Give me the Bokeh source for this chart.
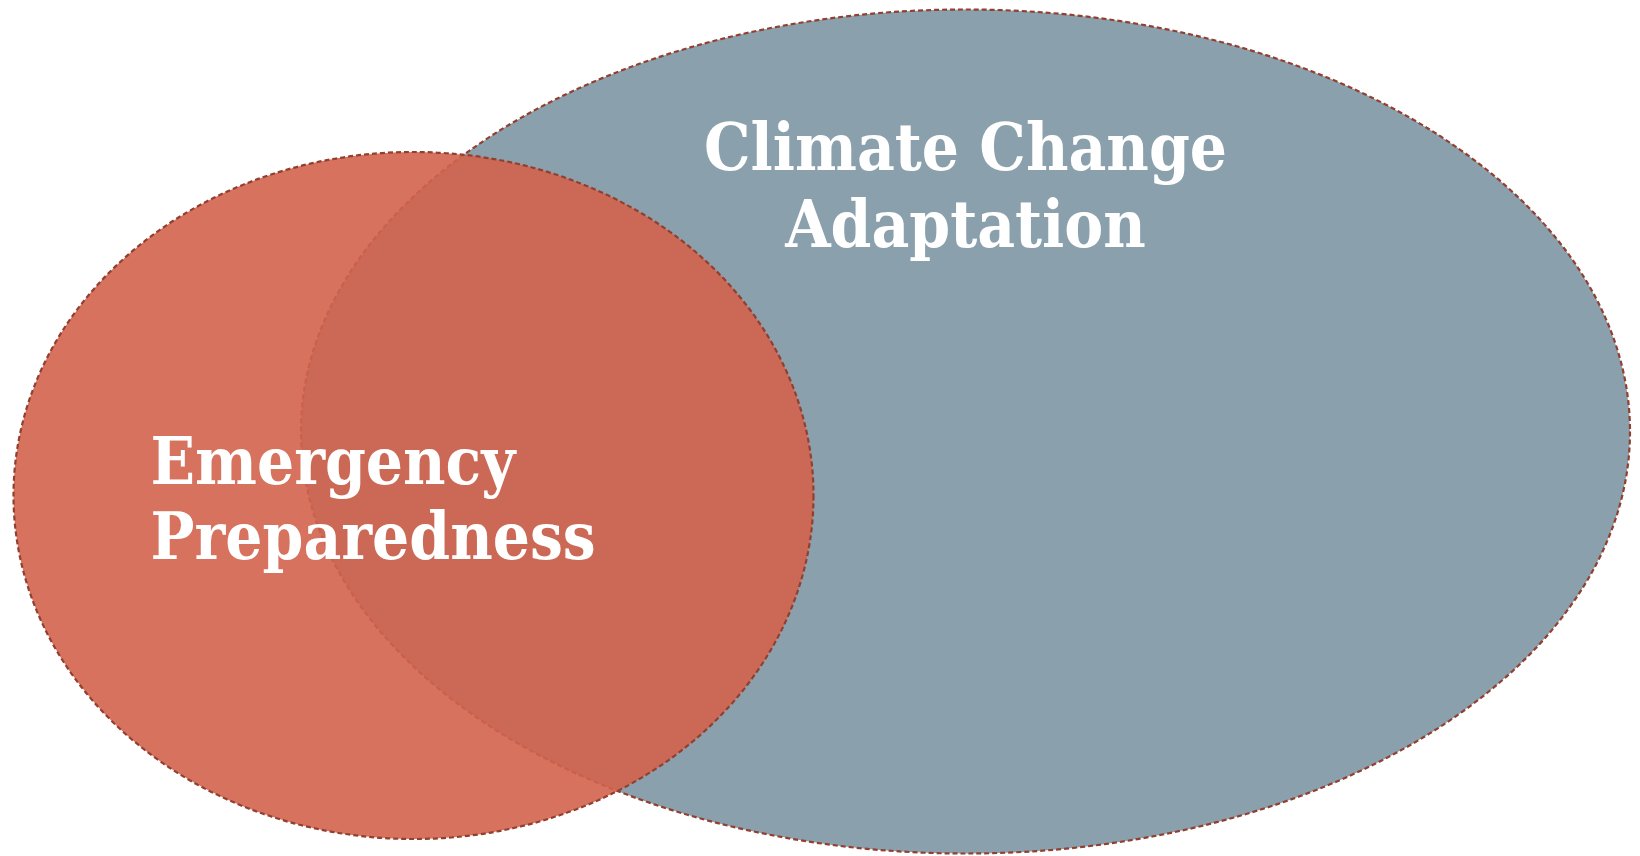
from bokeh.plotting import figure
from bokeh.models import Range1d
from bokeh.core.properties import value
from bokeh.embed import file_html
from bokeh.resources import INLINE

# Venn sets (pixel-like data space, y grows downward)
set_names = ["Climate Change Adaptation", "Emergency Preparedness"]
set_cx = [965, 413]
set_cy = [431, 495]
set_w = [1329, 800]
set_h = [844, 687]
set_fill = ["#8AA0AC", "#D1634C"]
set_alpha = [1.0, 0.9]

label_lines = [["Climate Change", "Adaptation"], ["Emergency", "Preparedness"]]

W, H = 1640, 856
p = figure(width=W, height=H, output_backend="svg", toolbar_location=None,
           x_range=Range1d(0, W), y_range=Range1d(H, 0),
           min_border=0, outline_line_color=None, background_fill_color="white",
           border_fill_color="white")
p.axis.visible = False
p.grid.visible = False

font = value("'DejaVu Serif Condensed', 'DejaVu Serif', serif")

# blue set
p.ellipse(x=set_cx[0], y=set_cy[0], width=set_w[0], height=set_h[0],
          fill_color=set_fill[0], fill_alpha=set_alpha[0],
          line_color="#933F30", line_width=2.2, line_dash="5 3")
p.text(x=[set_cx[0], set_cx[0]], y=[146, 223], text=label_lines[0],
       text_font=font, text_font_style="bold", text_font_size="65px",
       text_color="white", text_align="center", text_baseline="alphabetic")

# orange set
p.ellipse(x=set_cx[1], y=set_cy[1], width=set_w[1], height=set_h[1],
          fill_color=set_fill[1], fill_alpha=set_alpha[1],
          line_color="#933F30", line_width=2.2, line_dash="5 3")
p.text(x=[150, 150], y=[460, 535], text=label_lines[1],
       text_font=font, text_font_style="bold", text_font_size="65px",
       text_color="white", text_align="left", text_baseline="alphabetic")

open("out.html", "w").write(file_html(p, INLINE))
